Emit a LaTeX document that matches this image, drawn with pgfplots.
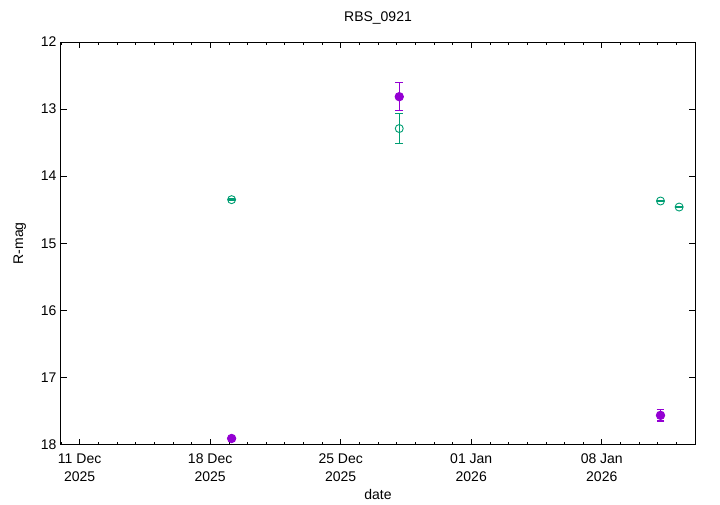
\documentclass[border=0pt]{standalone}
\usepackage{pgfplots}
\pgfplotsset{compat=1.18}
\usepackage{fontspec}
\setmainfont{Liberation Sans}
\definecolor{gpurple}{HTML}{9400D3}
\definecolor{ggreen}{HTML}{009E73}
\begin{document}
\begin{tikzpicture}
\begin{axis}[
  name=ax,
  scale only axis, width=634pt, height=402.5pt,
  xmin=10, xmax=44, ymin=12, ymax=18,
  y dir=reverse,
  xtick={11,18,25,32,39},
  xticklabels={{11 Dec\\2025},{18 Dec\\2025},{25 Dec\\2025},{01 Jan\\2026},{08 Jan\\2026}},
  x tick label style={align=center, font=\fontsize{14}{18}\selectfont, yshift=-6pt},
  minor xtick={10,...,44},
  ytick={12,13,14,15,16,17,18},
  y tick label style={font=\fontsize{14}{16}\selectfont, xshift=-1pt},
  /pgf/number format/assume math mode=true,
  tick align=inside,
  major tick length=6pt, minor tick length=3pt,
  tick style={black, line width=0.6pt},
  axis line style={black, line width=1pt},
  title={RBS\_0921},
  title style={font=\fontsize{14}{16}\selectfont, at={(0.5,1)}, yshift=8pt},
  xlabel={date}, ylabel={R-mag},
  label style={font=\fontsize{14}{16}\selectfont},
  xlabel style={yshift=-1pt},
  ylabel style={yshift=8pt},
  every axis plot/.append style={line width=0.9pt},
]
\addplot[only marks, gpurple, mark=*, mark size=4.2pt, mark options={fill=gpurple},
  error bars/y dir=both, error bars/y explicit,
  /pgfplots/error bars/error bar style={gpurple, line width=1.1pt},
  /pgfplots/error bars/error mark options={rotate=90, mark size=3.8pt, line width=1.1pt, gpurple}]
  coordinates {
  (19.15,17.91) +- (0,0.03)
  (28.14,12.815) +- (0,0.205)
  (42.15,17.565) +- (0,0.085)
};
\addplot[only marks, ggreen, mark=o, mark size=4pt, mark options={draw=ggreen},
  error bars/y dir=both, error bars/y explicit,
  /pgfplots/error bars/error bar style={ggreen, line width=1.1pt},
  /pgfplots/error bars/error mark options={rotate=90, mark size=3.8pt, line width=1.1pt, ggreen}]
  coordinates {
  (19.15,14.35) +- (0,0.01)
  (28.14,13.29) +- (0,0.225)
  (42.15,14.37) +- (0,0.01)
  (43.15,14.46) +- (0,0.01)
};
\end{axis}
\pgfresetboundingbox
\path[use as bounding box] (ax.south west) ++(-61pt,-59.5pt) rectangle ++(720pt,504pt);
\end{tikzpicture}
\end{document}
